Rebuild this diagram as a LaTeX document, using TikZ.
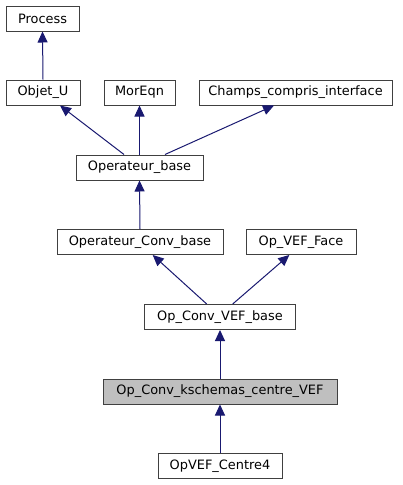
\documentclass[tikz,border=0pt]{standalone}
\usepackage{fontspec}
\setmainfont{DejaVu Sans}
\usetikzlibrary{arrows.meta}
\definecolor{edgeblue}{HTML}{191970}
\definecolor{boxline}{HTML}{404040}
\definecolor{hlfill}{HTML}{BFBFBF}
\tikzset{
  cls/.style={draw=boxline, line width=1pt, fill=white, minimum height=25pt, inner sep=0pt,
    font=\fontsize{12.9}{15}\selectfont, text=black},
  hl/.style={cls, fill=hlfill},
  inh/.style={draw=edgeblue, line width=1pt, -{Triangle[length=11pt,width=10pt]}}
}
\begin{document}
\begin{tikzpicture}[x=1pt,y=-1pt]
\useasboundingbox (0,0) rectangle (403,485);
\node[cls, minimum width=73pt]  (process) at (42.5,18.5) {Process};
\node[cls, minimum width=74pt]  (objetu)  at (43,92.5) {Objet\_U};
\node[cls, minimum width=71pt]  (moreqn)  at (139.5,92.5) {MorEqn};
\node[cls, minimum width=193pt] (champs)  at (295.5,92.5) {Champs\_compris\_interface};
\node[cls, minimum width=127pt] (opbase)  at (139.5,167.5) {Operateur\_base};
\node[cls, minimum width=166pt] (opconv)  at (140,242) {Operateur\_Conv\_base};
\node[cls, minimum width=110pt] (vefface) at (301,242) {Op\_VEF\_Face};
\node[cls, minimum width=151pt] (convvef) at (220,317) {Op\_Conv\_VEF\_base};
\node[hl,  minimum width=234pt] (ksch)    at (220,391.5) {Op\_Conv\_kschemas\_centre\_VEF};
\node[cls, minimum width=124pt] (centre4) at (220,466) {OpVEF\_Centre4};

\draw[inh] (objetu.north) -- (process.south);
\draw[inh] ([xshift=-15.5pt]opbase.north) -- ([xshift=17pt]objetu.south);
\draw[inh] (opbase.north) -- (moreqn.south);
\draw[inh] ([xshift=25.5pt]opbase.north) -- ([xshift=-21.5pt]champs.south);
\draw[inh] (opconv.north) -- (opbase.south);
\draw[inh] ([xshift=-13.3pt]convvef.north) -- ([xshift=12.7pt]opconv.south);
\draw[inh] ([xshift=12.7pt]convvef.north) -- ([xshift=-11.7pt]vefface.south);
\draw[inh] (ksch.north) -- (convvef.south);
\draw[inh] (centre4.north) -- (ksch.south);
\end{tikzpicture}
\end{document}
